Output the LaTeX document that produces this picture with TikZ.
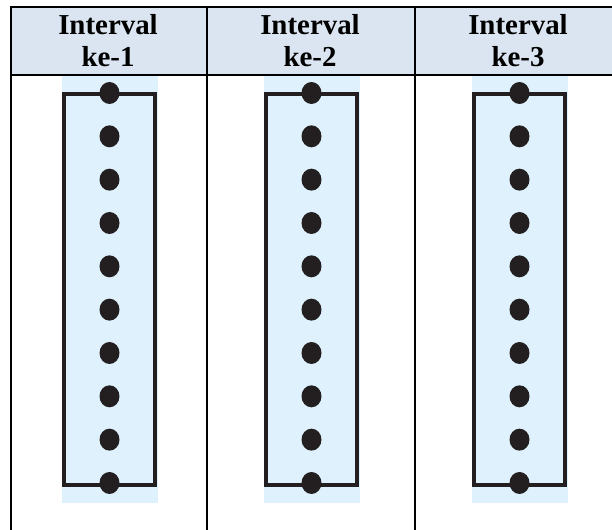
\documentclass[tikz,border=0pt]{standalone}
\usepackage{fontspec}
\setmainfont{Liberation Serif}
\usetikzlibrary{shapes.geometric}
\definecolor{hdr}{HTML}{DBE5F1}
\definecolor{boxfill}{HTML}{DFF1FC}
\definecolor{ink}{HTML}{231F20}
\begin{document}
\begin{tikzpicture}[x=1bp,y=-1bp,
  rule/.style={line width=2.2bp,black},
  hdrtext/.style={font=\fontsize{29}{32}\selectfont\bfseries,inner sep=0,anchor=base},
  dot/.style={ellipse,fill=ink,minimum width=20bp,minimum height=22bp,inner sep=0},
  frame/.style={draw=ink,line width=4bp}]
\useasboundingbox (0,0) rectangle (612,530);
\clip (0,0) rectangle (612,530);
\fill[hdr] (11,7) rectangle (623,75);
\foreach \c/\n in {109.5/1,311.5/2,519.5/3}{
  \fill[boxfill] (\c-48,75) rectangle (\c+48,503);
  \draw[frame] (\c-45.5,94.5) rectangle (\c+45.5,485);
  \foreach \i in {0,...,9}{
    \node[dot] (d\n-\i) at (\c,93+\i*43.33) {};
  }
}
\foreach \c/\n in {108/1,310/2,518/3}{
  \node[hdrtext] (h\n a) at (\c,35) {Interval};
  \node[hdrtext] (h\n b) at (\c,67) {ke-\n};
}
\draw[rule] (11,7) -- (623,7);
\draw[rule] (11,75) -- (623,75);
\draw[rule] (11,6) -- (11,530);
\draw[rule] (207,6) -- (207,530);
\draw[rule] (415,6) -- (415,530);
\end{tikzpicture}
\end{document}
